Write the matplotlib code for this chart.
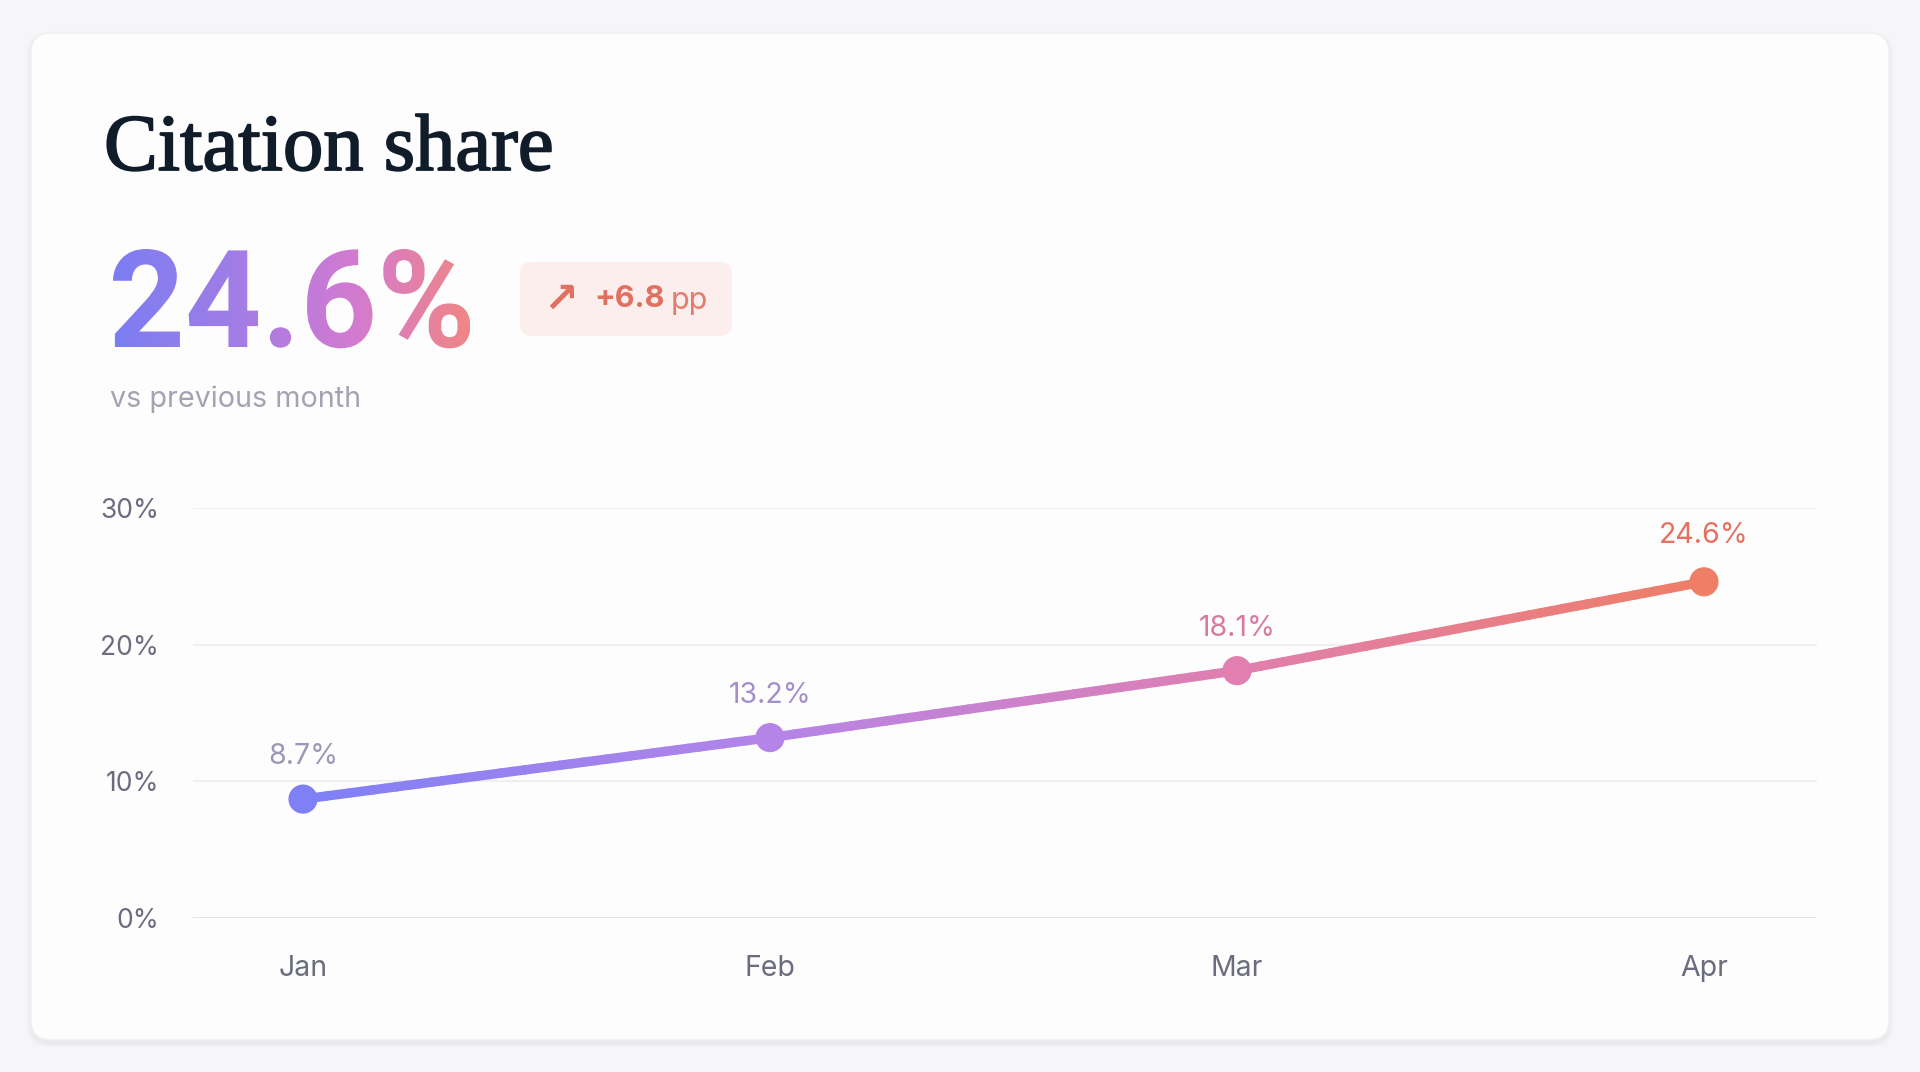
import numpy as np
import matplotlib
matplotlib.use("Agg")
import matplotlib.pyplot as plt
import matplotlib.patheffects as pe
from matplotlib.patches import FancyBboxPatch, PathPatch
from matplotlib.textpath import TextPath
from matplotlib.font_manager import FontProperties
from matplotlib.colors import LinearSegmentedColormap
from matplotlib.collections import LineCollection
from matplotlib.transforms import Affine2D

# data
months = ["Jan", "Feb", "Mar", "Apr"]
share = [8.7, 13.2, 18.1, 24.6]
y_ticks = [0, 10, 20, 30]
headline = "24.6%"
delta = "+6.8"

PAGE = "#f6f6f8"
CARD = "#fdfdfd"
INK = "#111c2b"
TICK = "#6b6c7e"
SUB = "#a3a3b4"
BADGE_BG = "#fdeeee"
BADGE_TXT = "#e0705f"
GRID = "#eeeef2"

grad = LinearSegmentedColormap.from_list(
    "g", ["#7f80f6", "#b584e8", "#e07fb0", "#ef7e66"])
num_grad = LinearSegmentedColormap.from_list(
    "n", ["#7b7df3", "#a07de6", "#d27ad2", "#f08686"])
label_colors = ["#9a98b6", "#a58fc8", "#d87aa0", "#e6705f"]

W, H = 1920, 1072
fig = plt.figure(figsize=(W / 100, H / 100), dpi=100)
fig.patch.set_facecolor(PAGE)

# overlay in pixel coords, y measured from top
ov = fig.add_axes([0, 0, 1, 1])
ov.set_xlim(0, W)
ov.set_ylim(H, 0)
ov.axis("off")

# card with a faint shadow
for i, a in enumerate([0.018, 0.014, 0.010]):
    s = 3 + i * 3
    ov.add_patch(FancyBboxPatch((31 - s / 2, 33 - s / 2 + 3), 1858 + s, 1007 + s,
                                boxstyle="round,pad=0,rounding_size=22",
                                facecolor="#000000", edgecolor="none", alpha=a))
ov.add_patch(FancyBboxPatch((31, 33), 1858, 1007,
                            boxstyle="round,pad=0,rounding_size=20",
                            facecolor=CARD, edgecolor="#f0f0f3", linewidth=1))

ov.text(104, 170, "Citation share", family="Liberation Serif", fontsize=58,
        color=INK, ha="left", va="baseline",
        path_effects=[pe.withStroke(linewidth=1.3, foreground=INK)])

# big gradient number, fitted into its box (left 113, right 470, top 249, base 347)
fp = FontProperties(family="Roboto", weight="bold")
tp = TextPath((0, 0), headline, size=100, prop=fp)
ext = tp.get_extents()
sx = (470 - 113) / ext.width
sy = (347 - 249) / ext.y1
tr = (Affine2D().translate(-ext.x0, 0).scale(sx, -sy).translate(113, 347)
      + ov.transData)
patch = PathPatch(tp, transform=tr, facecolor="none", edgecolor="none")
ov.add_patch(patch)
gx = np.linspace(0, 1, 256).reshape(1, -1)
im = ov.imshow(gx, cmap=num_grad, aspect="auto", zorder=3,
               extent=(113, 470, 360, 240), interpolation="bicubic")
im.set_clip_path(patch)
ov.set_xlim(0, W)
ov.set_ylim(H, 0)

# delta badge
ov.add_patch(FancyBboxPatch((520, 262), 212, 74,
                            boxstyle="round,pad=0,rounding_size=12",
                            facecolor=BADGE_BG, edgecolor="none"))
ov.text(543, 300, "↗", family="DejaVu Sans", fontsize=30, weight="bold",
        color=BADGE_TXT, ha="left", va="center")
ov.text(594, 299, delta, family="Inter", fontsize=22, weight="bold",
        color=BADGE_TXT, ha="left", va="center")
ov.text(671, 301, "pp", family="Inter", fontsize=22, color=BADGE_TXT,
        ha="left", va="center", alpha=0.9)

ov.text(110, 399, "vs previous month", family="Inter", fontsize=20.7,
        color=SUB, ha="left", va="center")

# line chart
ax = fig.add_axes([193 / W, 1 - 918 / H, (1817 - 193) / W, 410 / H])
ax.set_facecolor("none")
xs = np.arange(len(months))
ax.set_xlim(-(303 - 193) / 467, len(months) - 1 + (1817 - 1704) / 467)
ax.set_ylim(0, 30)
for s in ax.spines.values():
    s.set_visible(False)
ax.set_yticks(y_ticks)
ax.set_yticklabels([f"{v}%" for v in y_ticks])
ax.set_xticks(xs)
ax.set_xticklabels(months)
ax.tick_params(length=0, labelcolor=TICK)
ax.tick_params(axis="y", pad=24.5, labelsize=19)
ax.tick_params(axis="x", pad=27, labelsize=20.5)
for lab in ax.get_xticklabels() + ax.get_yticklabels():
    lab.set_family("Inter")
for v in y_ticks:
    ax.axhline(v, color="#e2e2e8" if v == 0 else GRID, lw=1.3, zorder=0)

# gradient stroke: split each segment so the colour can shift along it
pts = []
for i in range(len(xs) - 1):
    t = np.linspace(0, 1, 40, endpoint=False)
    for tt in t:
        pts.append((xs[i] + tt * (xs[i + 1] - xs[i]),
                    share[i] + tt * (share[i + 1] - share[i])))
pts.append((xs[-1], share[-1]))
pts = np.array(pts)
segs = np.stack([pts[:-1], pts[1:]], axis=1)
lc = LineCollection(segs, colors=grad(pts[:-1, 0] / xs[-1]), linewidths=6.8,
                    capstyle="round", zorder=3)
ax.add_collection(lc)
ax.scatter(xs, share, s=21 ** 2, c=grad(xs / xs[-1]), zorder=4, linewidths=0)

offsets = [30.5, 30.5, 30.5, 33.5]
for x, v, c, off in zip(xs, share, label_colors, offsets):
    ax.annotate(f"{v}%", (x, v), xytext=(0, off), textcoords="offset points",
                ha="center", va="center", fontsize=20.5, family="Inter", color=c)

fig.savefig("out.png", dpi=100, facecolor=PAGE)
